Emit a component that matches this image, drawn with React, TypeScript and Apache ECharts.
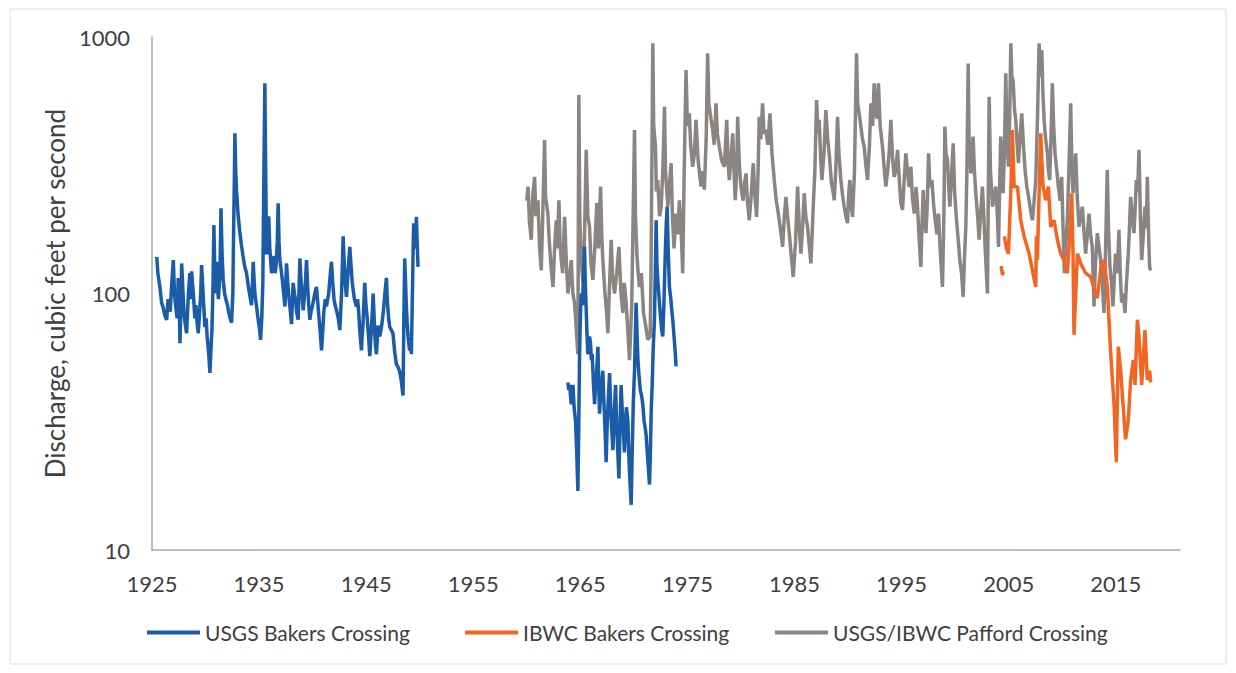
import React, { useEffect, useRef } from "react";
import * as echarts from "echarts";

// [year, discharge cfs]; null marks a gap in the record
const usgsBakers: [number, number | null][] = [
  [1925.44, 139], [1925.55, 120], [1925.75, 105], [1925.9, 92], [1926.05, 88], [1926.2, 82],
  [1926.37, 79], [1926.5, 95], [1926.7, 85], [1926.85, 110], [1926.99, 135], [1927.1, 100],
  [1927.2, 90], [1927.35, 80], [1927.45, 115], [1927.55, 90], [1927.61, 64], [1927.7, 90],
  [1927.77, 131], [1927.9, 100], [1928.0, 82], [1928.12, 75], [1928.23, 70], [1928.32, 85],
  [1928.4, 100], [1928.54, 120], [1928.62, 95], [1928.7, 122], [1928.78, 110], [1928.86, 100],
  [1929.0, 80], [1929.1, 90], [1929.2, 78], [1929.32, 70], [1929.45, 85], [1929.55, 100],
  [1929.63, 129], [1929.72, 110], [1929.8, 95], [1929.94, 74], [1930.05, 80], [1930.15, 68],
  [1930.3, 58], [1930.41, 49], [1930.5, 60], [1930.6, 72], [1930.7, 110], [1930.78, 185],
  [1930.85, 130], [1930.9, 100], [1931.03, 133], [1931.1, 110], [1931.2, 95], [1931.35, 120],
  [1931.44, 215], [1931.55, 140], [1931.65, 113], [1931.78, 100], [1931.9, 95], [1932.05, 90],
  [1932.15, 85], [1932.3, 80], [1932.43, 77], [1932.55, 100], [1932.6, 150], [1932.7, 300],
  [1932.74, 421], [1932.82, 300], [1932.9, 250], [1933.05, 200], [1933.21, 172], [1933.35, 155],
  [1933.5, 140], [1933.65, 128], [1933.83, 120], [1933.95, 110], [1934.1, 100], [1934.2, 95],
  [1934.3, 90], [1934.4, 115], [1934.45, 133], [1934.55, 110], [1934.61, 100], [1934.75, 90],
  [1934.9, 80], [1935.05, 72], [1935.14, 66], [1935.25, 80], [1935.35, 110], [1935.45, 300],
  [1935.54, 660], [1935.6, 350], [1935.7, 142], [1935.8, 160], [1935.9, 200], [1936.0, 150],
  [1936.16, 120], [1936.28, 130], [1936.4, 140], [1936.5, 120], [1936.6, 130], [1936.7, 160],
  [1936.78, 225], [1936.86, 160], [1936.94, 135], [1937.05, 125], [1937.2, 110], [1937.3, 100],
  [1937.41, 89], [1937.5, 110], [1937.56, 131], [1937.68, 110], [1937.8, 95], [1937.92, 85],
  [1938.03, 76], [1938.1, 90], [1938.18, 110], [1938.3, 100], [1938.4, 95], [1938.5, 85],
  [1938.65, 79], [1938.72, 100], [1938.81, 137], [1938.9, 115], [1939.0, 100], [1939.12, 86],
  [1939.25, 100], [1939.35, 115], [1939.43, 135], [1939.52, 110], [1939.6, 95], [1939.74, 79],
  [1939.85, 85], [1940.0, 90], [1940.2, 100], [1940.36, 106], [1940.5, 90], [1940.6, 80],
  [1940.72, 70], [1940.83, 60], [1940.95, 72], [1941.05, 85], [1941.18, 95], [1941.29, 89],
  [1941.4, 95], [1941.5, 100], [1941.62, 115], [1941.76, 133], [1941.88, 110], [1942.0, 95],
  [1942.1, 90], [1942.23, 86], [1942.4, 80], [1942.54, 72], [1942.62, 85], [1942.7, 100],
  [1942.78, 130], [1942.85, 167], [1942.92, 140], [1943.0, 120], [1943.08, 105], [1943.16, 97],
  [1943.3, 120], [1943.47, 152], [1943.58, 130], [1943.7, 110], [1943.9, 95], [1944.09, 89],
  [1944.2, 95], [1944.3, 85], [1944.42, 70], [1944.56, 60], [1944.62, 68], [1944.7, 75],
  [1944.8, 95], [1944.87, 110], [1944.98, 90], [1945.1, 80], [1945.22, 68], [1945.34, 57],
  [1945.42, 65], [1945.5, 75], [1945.58, 85], [1945.65, 100], [1945.72, 85], [1945.8, 70],
  [1945.88, 62], [1945.96, 58], [1946.03, 65], [1946.1, 75], [1946.18, 72], [1946.27, 68],
  [1946.45, 75], [1946.6, 85], [1946.75, 100], [1946.89, 115], [1946.95, 100], [1947.0, 90],
  [1947.1, 80], [1947.2, 74], [1947.35, 72], [1947.5, 70], [1947.65, 60], [1947.82, 53],
  [1947.95, 52], [1948.1, 50], [1948.2, 48], [1948.3, 45], [1948.38, 42], [1948.44, 40],
  [1948.52, 80], [1948.6, 137], [1948.68, 110], [1948.75, 90], [1948.82, 78], [1948.91, 68],
  [1948.98, 64], [1949.05, 60], [1949.15, 62], [1949.22, 58], [1949.3, 90], [1949.35, 120],
  [1949.4, 160], [1949.44, 188], [1949.52, 170], [1949.6, 150], [1949.69, 199], [1949.76, 160],
  [1949.84, 127],
  [1956.0, null],
  [1963.84, 45], [1963.92, 42], [1964.0, 44], [1964.08, 40], [1964.15, 37], [1964.22, 40],
  [1964.31, 44], [1964.42, 36], [1964.55, 32], [1964.65, 25], [1964.77, 17], [1964.85, 30],
  [1964.93, 58], [1965.0, 80], [1965.08, 100], [1965.2, 90], [1965.3, 120], [1965.39, 152],
  [1965.46, 110], [1965.55, 86], [1965.62, 70], [1965.7, 58], [1965.78, 62], [1965.86, 68],
  [1965.95, 64], [1966.03, 55], [1966.11, 58], [1966.22, 45], [1966.33, 37], [1966.45, 45],
  [1966.55, 52], [1966.64, 62], [1966.72, 45], [1966.79, 34], [1966.9, 40], [1967.0, 45],
  [1967.1, 50], [1967.2, 38], [1967.3, 30], [1967.41, 22], [1967.5, 30], [1967.6, 38],
  [1967.73, 49], [1967.82, 38], [1967.92, 30], [1968.04, 24.5], [1968.15, 32], [1968.22, 38],
  [1968.29, 44], [1968.38, 32], [1968.5, 24], [1968.6, 19], [1968.7, 30], [1968.81, 44],
  [1968.9, 36], [1969.0, 30], [1969.12, 24], [1969.22, 30], [1969.3, 36], [1969.44, 32],
  [1969.55, 22], [1969.65, 18], [1969.75, 15], [1969.85, 25], [1969.95, 38], [1970.06, 50],
  [1970.14, 70], [1970.21, 92], [1970.3, 68], [1970.38, 55], [1970.46, 49], [1970.6, 42],
  [1970.72, 40], [1970.83, 37], [1970.95, 32], [1971.05, 30], [1971.15, 28], [1971.25, 24],
  [1971.35, 21], [1971.46, 18], [1971.55, 25], [1971.62, 35], [1971.71, 44], [1971.8, 60],
  [1971.92, 79], [1972.0, 120], [1972.08, 193], [1972.15, 130], [1972.25, 110], [1972.39, 92],
  [1972.5, 80], [1972.6, 72], [1972.7, 68], [1972.8, 90], [1972.88, 120], [1972.95, 152],
  [1973.03, 190], [1973.11, 218], [1973.2, 150], [1973.32, 106], [1973.45, 95], [1973.55, 85],
  [1973.63, 79], [1973.75, 68], [1973.85, 60], [1973.94, 52],
];

const ibwcBakers: [number, number | null][] = [
  [2004.3, 128], [2004.42, 118], [2004.5, 122],
  [2004.55, null],
  [2004.6, 167], [2004.8, 150], [2004.98, 143], [2005.2, 250], [2005.35, 434], [2005.51, 261],
  [2005.82, 261], [2006.13, 193], [2006.44, 167], [2006.91, 143], [2007.22, 123], [2007.53, 106],
  [2007.59, 167], [2007.68, 135], [2007.99, 421], [2008.21, 261], [2008.46, 231], [2008.71, 261],
  [2008.93, 182], [2009.24, 193], [2009.55, 162], [2009.86, 143], [2010.17, 135], [2010.48, 120],
  [2010.64, 152], [2010.89, 246], [2011.01, 143], [2011.1, 69], [2011.42, 143], [2011.73, 131],
  [2012.19, 120], [2012.66, 116], [2013.13, 100], [2013.28, 96], [2013.6, 125], [2013.9, 135],
  [2014.21, 106], [2014.53, 58], [2014.84, 37], [2015.05, 22], [2015.24, 62], [2015.46, 50],
  [2015.68, 37], [2015.92, 27], [2016.17, 32], [2016.39, 46], [2016.64, 55], [2016.8, 44],
  [2017.02, 79], [2017.17, 68], [2017.42, 44], [2017.73, 72], [2017.95, 46], [2018.16, 50],
  [2018.26, 45],
];

const pafford: [number, number | null][] = [
  [1960.0, 230], [1960.11, 261], [1960.25, 190], [1960.42, 162], [1960.55, 240], [1960.73, 285],
  [1960.85, 200], [1961.04, 231], [1961.2, 150], [1961.35, 123], [1961.5, 210], [1961.66, 397],
  [1961.75, 240], [1961.97, 205], [1962.1, 160], [1962.25, 130], [1962.44, 106], [1962.6, 150],
  [1962.75, 193], [1962.85, 150], [1963.0, 231], [1963.1, 160], [1963.22, 135], [1963.35, 120],
  [1963.53, 199], [1963.7, 130], [1963.84, 100], [1964.0, 115], [1964.15, 135], [1964.3, 100],
  [1964.46, 92], [1964.6, 75], [1964.77, 58], [1964.86, 594], [1964.95, 200], [1965.08, 135],
  [1965.25, 110], [1965.39, 167], [1965.55, 363], [1965.7, 200], [1965.86, 182], [1966.0, 130],
  [1966.17, 113], [1966.35, 150], [1966.54, 225], [1966.7, 150], [1966.89, 261], [1967.0, 170],
  [1967.1, 135], [1967.3, 100], [1967.45, 85], [1967.57, 70], [1967.7, 100], [1967.88, 162],
  [1968.0, 120], [1968.19, 100], [1968.4, 120], [1968.6, 152], [1968.8, 100], [1968.97, 84],
  [1969.1, 110], [1969.28, 92], [1969.45, 70], [1969.59, 55], [1969.8, 90], [1970.06, 434],
  [1970.15, 200], [1970.28, 143], [1970.4, 120], [1970.52, 106], [1970.7, 120], [1970.9, 84],
  [1971.1, 75], [1971.3, 66], [1971.52, 68], [1971.6, 120], [1971.77, 945], [1971.85, 450],
  [1972.02, 373], [1972.1, 250], [1972.23, 277], [1972.4, 200], [1972.55, 218], [1972.7, 300],
  [1972.86, 535], [1972.95, 300], [1973.17, 218], [1973.3, 260], [1973.48, 322], [1973.6, 200],
  [1973.75, 150], [1973.94, 205], [1974.1, 170], [1974.25, 231], [1974.41, 180], [1974.56, 120],
  [1974.7, 300], [1974.87, 743], [1975.0, 450], [1975.18, 504], [1975.3, 380], [1975.49, 312],
  [1975.65, 350], [1975.8, 475], [1976.0, 330], [1976.15, 290], [1976.27, 261], [1976.4, 300],
  [1976.58, 254], [1976.75, 400], [1976.89, 864], [1977.0, 550], [1977.2, 480], [1977.36, 434],
  [1977.5, 380], [1977.67, 551], [1977.8, 420], [1977.98, 373], [1978.2, 330], [1978.45, 312],
  [1978.55, 380], [1978.67, 475], [1978.8, 320], [1978.91, 277], [1979.05, 330], [1979.23, 421],
  [1979.35, 300], [1979.47, 231], [1979.6, 300], [1979.69, 489], [1979.85, 320], [1980.0, 261],
  [1980.2, 230], [1980.35, 270], [1980.47, 294], [1980.6, 230], [1980.78, 193], [1980.95, 240],
  [1981.15, 322], [1981.3, 240], [1981.46, 199], [1981.6, 300], [1981.71, 489], [1981.85, 400],
  [1982.02, 551], [1982.15, 420], [1982.33, 434], [1982.5, 380], [1982.71, 504], [1982.9, 350],
  [1983.11, 277], [1983.3, 230], [1983.45, 210], [1983.58, 193], [1983.75, 170], [1983.89, 152],
  [1984.05, 200], [1984.2, 238], [1984.35, 200], [1984.51, 172], [1984.7, 140], [1984.88, 116],
  [1985.1, 160], [1985.29, 261], [1985.45, 180], [1985.6, 143], [1985.75, 180], [1985.91, 246],
  [1986.05, 200], [1986.22, 182], [1986.4, 150], [1986.53, 131], [1986.65, 170], [1986.75, 218],
  [1986.9, 300], [1987.06, 568], [1987.2, 420], [1987.31, 475], [1987.45, 330], [1987.56, 277],
  [1987.75, 350], [1987.93, 519], [1988.1, 400], [1988.24, 352], [1988.45, 270], [1988.6, 250],
  [1988.71, 231], [1988.85, 300], [1989.02, 489], [1989.15, 350], [1989.33, 277], [1989.5, 240],
  [1989.64, 218], [1989.8, 200], [1989.95, 188], [1990.05, 240], [1990.17, 277], [1990.3, 220],
  [1990.42, 199], [1990.6, 300], [1990.79, 864], [1990.9, 550], [1991.05, 500], [1991.2, 447],
  [1991.35, 400], [1991.51, 373], [1991.65, 320], [1991.82, 277], [1992.0, 380], [1992.13, 551],
  [1992.3, 450], [1992.44, 660], [1992.6, 500], [1992.75, 480], [1992.84, 660], [1993.0, 450],
  [1993.22, 373], [1993.4, 300], [1993.53, 261], [1993.7, 300], [1993.85, 360], [1994.0, 475],
  [1994.15, 340], [1994.31, 285], [1994.45, 300], [1994.62, 363], [1994.78, 280], [1994.93, 225],
  [1995.09, 212], [1995.25, 280], [1995.4, 352], [1995.55, 300], [1995.7, 260], [1995.87, 312],
  [1996.0, 240], [1996.18, 205], [1996.35, 260], [1996.49, 218], [1996.65, 160], [1996.8, 127],
  [1996.9, 180], [1997.02, 253], [1997.15, 200], [1997.27, 172], [1997.4, 220], [1997.52, 352],
  [1997.65, 260], [1997.83, 277], [1998.0, 220], [1998.14, 193], [1998.3, 170], [1998.45, 205],
  [1998.6, 150], [1998.82, 106], [1998.95, 200], [1999.04, 447], [1999.15, 350], [1999.29, 331],
  [1999.4, 260], [1999.51, 218], [1999.65, 280], [1999.82, 385], [1999.95, 250], [2000.13, 193],
  [2000.3, 160], [2000.44, 135], [2000.6, 120], [2000.75, 97], [2000.88, 140], [2001.0, 182],
  [2001.1, 300], [2001.22, 789], [2001.3, 400], [2001.47, 294], [2001.58, 350], [2001.68, 409],
  [2001.8, 300], [2001.93, 246], [2002.1, 200], [2002.24, 162], [2002.4, 210], [2002.55, 261],
  [2002.68, 200], [2002.8, 152], [2002.92, 120], [2003.02, 100], [2003.1, 250], [2003.18, 585],
  [2003.3, 300], [2003.49, 218], [2003.65, 240], [2003.8, 261], [2003.95, 200], [2004.05, 152],
  [2004.15, 250], [2004.26, 409], [2004.38, 300], [2004.48, 246], [2004.6, 350], [2004.73, 722],
  [2004.85, 400], [2004.98, 312], [2005.1, 500], [2005.2, 945], [2005.3, 700], [2005.41, 680],
  [2005.55, 520], [2005.66, 475], [2005.8, 380], [2005.91, 322], [2006.05, 400], [2006.22, 504],
  [2006.38, 380], [2006.53, 303], [2006.7, 260], [2006.91, 231], [2007.05, 210], [2007.22, 193],
  [2007.38, 230], [2007.53, 277], [2007.7, 500], [2007.84, 945], [2007.95, 700], [2008.09, 890],
  [2008.2, 600], [2008.31, 475], [2008.45, 400], [2008.62, 352], [2008.72, 300], [2008.83, 277],
  [2008.95, 400], [2009.08, 660], [2009.2, 450], [2009.33, 352], [2009.5, 300], [2009.64, 261],
  [2009.8, 230], [2009.95, 285], [2010.08, 180], [2010.2, 120], [2010.35, 160], [2010.48, 193],
  [2010.62, 300], [2010.79, 551], [2010.9, 320], [2011.01, 246], [2011.15, 300], [2011.26, 352],
  [2011.4, 240], [2011.57, 182], [2011.72, 200], [2011.88, 218], [2012.05, 170], [2012.19, 143],
  [2012.35, 170], [2012.5, 205], [2012.65, 170], [2012.81, 152], [2012.97, 89], [2013.1, 130],
  [2013.28, 172], [2013.45, 150], [2013.59, 135], [2013.75, 110], [2013.9, 84], [2014.05, 150],
  [2014.21, 303], [2014.32, 180], [2014.46, 127], [2014.6, 110], [2014.74, 89], [2014.88, 120],
  [2014.99, 143], [2015.15, 120], [2015.3, 177], [2015.42, 120], [2015.55, 92], [2015.7, 100],
  [2015.86, 84], [2016.0, 110], [2016.17, 143], [2016.28, 180], [2016.39, 238], [2016.55, 200],
  [2016.7, 172], [2016.82, 220], [2016.92, 277], [2017.05, 250], [2017.17, 363], [2017.3, 200],
  [2017.42, 135], [2017.58, 170], [2017.73, 218], [2017.85, 180], [2017.95, 285], [2018.05, 180],
  [2018.16, 127], [2018.26, 123],
];

const seriesNames = ["USGS Bakers Crossing", "IBWC Bakers Crossing", "USGS/IBWC Pafford Crossing"];
const seriesColors = ["#1a5ca8", "#f26522", "#8a8582"];
const yAxisTitle = "Discharge, cubic feet per second";

const toData = (arr: [number, number | null][]) =>
  arr.map(([x, y]) => [x, y === null ? "-" : y]);

export default function App() {
  const ref = useRef<HTMLDivElement>(null);
  useEffect(() => {
    const chart = echarts.init(ref.current!, null, { renderer: "svg" });
    const font = "Lato, 'Open Sans', sans-serif";
    const textColor = "#404040";
    const legendBase = {
      top: 622,
      padding: 0,
      itemWidth: 53,
      itemHeight: 4,
      icon: "rect",
      itemGap: 5,
      textStyle: { fontFamily: font, fontSize: 21, color: textColor },
    };
    const lineSeries = (idx: number, data: [number, number | null][]) => ({
      name: seriesNames[idx],
      type: "line",
      data: toData(data),
      showSymbol: false,
      symbol: "none",
      lineStyle: { color: seriesColors[idx], width: 3.5 },
      itemStyle: { color: seriesColors[idx] },
      connectNulls: false,
    });
    chart.setOption({
      animation: false,
      backgroundColor: "#ffffff",
      graphic: [
        {
          type: "rect",
          shape: { x: 10, y: 9, width: 1216, height: 655 },
          style: { fill: "none", stroke: "#dcdcdc", lineWidth: 1 },
          silent: true,
        },
      ],
      grid: { left: 152, right: 56, top: 37, bottom: 123 },
      legend: [
        { ...legendBase, left: 147, data: [seriesNames[0]] },
        { ...legendBase, left: 465, data: [seriesNames[1]] },
        { ...legendBase, left: 775, data: [seriesNames[2]] },
      ],
      xAxis: {
        type: "value",
        min: 1925,
        max: 2021,
        interval: 10,
        splitLine: { show: false },
        axisTick: { show: false },
        axisLine: { lineStyle: { color: "#a8a8a8", width: 1.5 } },
        axisLabel: {
          margin: 22,
          fontFamily: font,
          fontSize: 22,
          color: textColor,
          showMaxLabel: false,
          formatter: (v: number) => ((v - 1925) % 10 === 0 ? String(v) : ""),
        },
      },
      yAxis: {
        type: "log",
        logBase: 10,
        min: 10,
        max: 1000,
        name: yAxisTitle,
        nameLocation: "middle",
        nameGap: 77,
        nameTextStyle: { fontFamily: font, fontSize: 26, color: textColor },
        splitLine: { show: false },
        axisTick: { show: false },
        axisLine: { show: true, lineStyle: { color: "#a8a8a8", width: 1.5 } },
        axisLabel: {
          margin: 22,
          fontFamily: font,
          fontSize: 22,
          color: textColor,
          formatter: (v: number) => String(Math.round(v)),
        },
      },
      series: [lineSeries(2, pafford), lineSeries(0, usgsBakers), lineSeries(1, ibwcBakers)],
    });
    return () => chart.dispose();
  }, []);
  return (
    <div
      ref={ref}
      style={{ position: "fixed", left: 0, top: 0, width: 1236, height: 673, background: "#fff" }}
    />
  );
}
